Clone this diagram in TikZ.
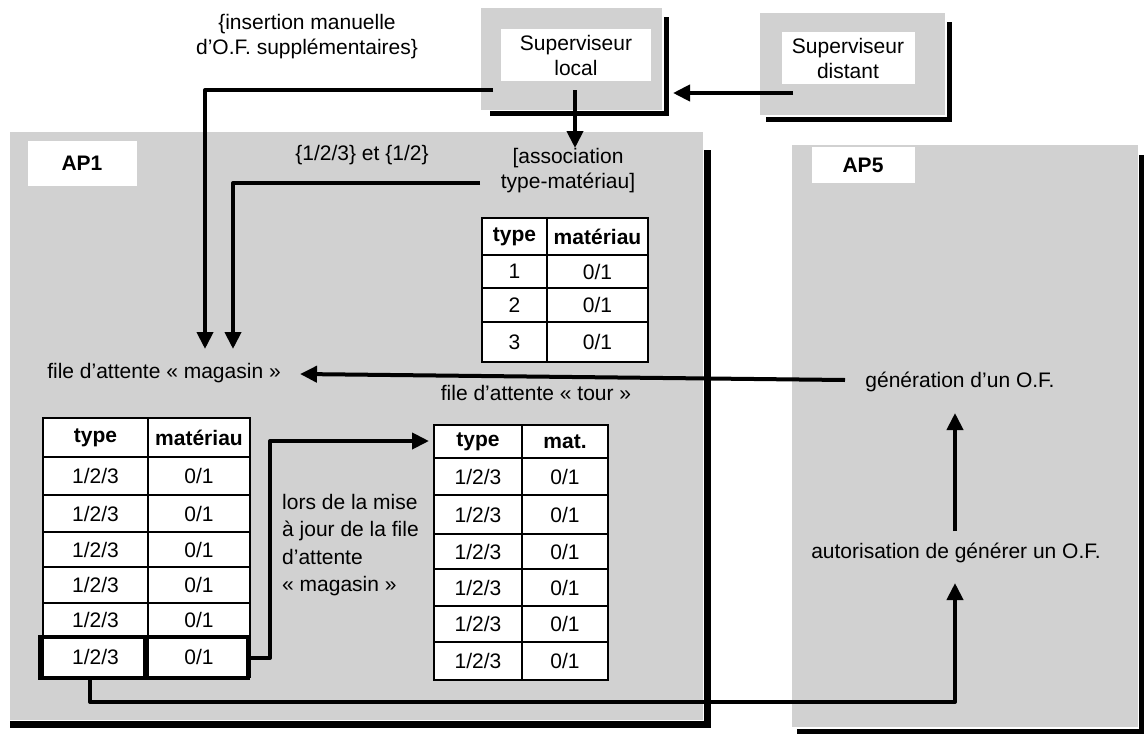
\documentclass[tikz,border=0pt]{standalone}
\usepackage{fontspec}
\setmainfont{Liberation Sans}
\usetikzlibrary{arrows.meta}
\newcommand{\fs}{\fontsize{21}{25}\selectfont}
\begin{document}
\begin{tikzpicture}[x=1pt,y=-1pt,
  bg/.style={fill=black!18},
  shadowline/.style={line width=6pt, line join=miter, line cap=butt},
  whitelabel/.style={fill=white, inner sep=0pt, align=center, font=\fs},
  txt/.style={inner sep=0pt, align=center, font=\fs},
  conn/.style={line width=4pt, line join=round},
  arr/.style={conn, -{Triangle[length=17pt,width=16pt]}},
  tab/.style={fill=white, draw=black, line width=1.4pt},
  tabline/.style={line width=1.4pt},
  hd/.style={inner sep=0pt, font=\fs\bfseries},
  cl/.style={inner sep=0pt, font=\fs},
  thickcell/.style={draw=black, line width=4pt}
]
\useasboundingbox (0,0) rectangle (1144,739);
\fill[white] (0,0) rectangle (1144,739);

% ---------- AP1 ----------
\fill[bg] (10,132) rectangle (703,720);
\draw[shadowline,line width=7pt] (10,724) -- (707,724) -- (707,150);
\node[whitelabel, font=\fs\bfseries, minimum width=109pt, minimum height=45pt] (ap1) at (82,163) {AP1};

% ---------- AP5 ----------
\fill[bg] (792,145) rectangle (1138,727);
\draw[shadowline,line width=5pt] (797,731) -- (1141,731) -- (1141,155);
\node[whitelabel, font=\fs\bfseries, minimum width=103pt, minimum height=36pt] (ap5) at (863,165) {AP5};

% ---------- Superviseur local ----------
\fill[bg] (481,8) rectangle (662,110);
\draw[shadowline,line width=5pt] (490,113) -- (666,113) -- (666,17);
\node[whitelabel, minimum width=150pt, minimum height=52pt] (local) at (576,55) {Superviseur\\local};

% ---------- Superviseur distant ----------
\fill[bg] (760,13) rectangle (945,115);
\draw[shadowline,line width=5pt] (766,119) -- (949,119) -- (949,22);
\node[whitelabel, minimum width=133pt, minimum height=52pt] (distant) at (848,58) {Superviseur\\distant};

% ---------- labels ----------
\node[txt] (ins) at (307,37) {\{insertion manuelle\\d'O.F. supplémentaires\}};
\node[txt] (sets) at (362,155) {\{1/2/3\} et \{1/2\}};
\node[txt] (assoc) at (568,171) {[association\\type-matériau]};
\node[txt] (mag) at (164,373) {file d'attente « magasin »};
\node[txt] (tour) at (536,393) {file d'attente « tour »};
\node[txt, align=left, anchor=north west, font=\fontsize{21}{27.5}\selectfont] (lors) at (282,494) {lors de la mise\\à jour de la file\\d'attente\\« magasin »};
\node[txt] (gen) at (960,382) {génération d'un O.F.};
\node[txt] (aut) at (956,553) {autorisation de générer un O.F.};

% ---------- association table ----------
\filldraw[tab] (482,218) rectangle (648,362);
\draw[tabline] (547,218) -- (547,362);
\foreach \yy in {255,288,322} \draw[tabline] (482,\yy) -- (648,\yy);
\node[hd] (at1) at (514.5,237) {type};
\node[hd] (at2) at (597.5,237) {matériau};
\foreach \v/\yy in {1/271.5,2/305,3/342} {
  \node[cl] at (514.5,\yy) {\v};
  \node[cl] at (597.5,\yy) {0/1};
}

% ---------- magasin table ----------
\filldraw[tab] (43,418) rectangle (250,677);
\draw[tabline] (148,418) -- (148,677);
\foreach \yy in {457,495,532,567,603,637} \draw[tabline] (43,\yy) -- (250,\yy);
\node[hd] at (95.5,438) {type};
\node[hd] at (199,438) {matériau};
\foreach \yy in {476,513.5,549.5,585,620,657} {
  \node[cl] at (95.5,\yy) {1/2/3};
  \node[cl] at (199,\yy) {0/1};
}
\draw[thickcell] (40,637) rectangle (145,678);
\draw[thickcell] (145,637) rectangle (248,678);

% ---------- tour table ----------
\filldraw[tab] (434,425) rectangle (608,680);
\draw[tabline] (522,425) -- (522,680);
\foreach \yy in {458,495,534,569,606,642} \draw[tabline] (434,\yy) -- (608,\yy);
\node[hd] at (478,442) {type};
\node[hd] at (565,442) {mat.};
\foreach \yy in {476.5,514.5,551.5,587.5,624,661} {
  \node[cl] at (478,\yy) {1/2/3};
  \node[cl] at (565,\yy) {0/1};
}

% ---------- connector end points ----------
\coordinate (dtail) at (793,93);
\coordinate (ltip) at (673,93);
\coordinate (ldown) at (575,90);
\coordinate (atip) at (575,148);
\coordinate (insstart) at (493,90);
\coordinate (magin1) at (205,349);
\coordinate (setstart) at (480,183);
\coordinate (magin2) at (233,349);
\coordinate (genW) at (845,380);
\coordinate (magE) at (300,374);
\coordinate (mlastE) at (248,658);
\coordinate (mturn1) at (270,658);
\coordinate (mturn2) at (270,441);
\coordinate (tourW) at (429,441);
\coordinate (mlastS) at (90,678);
\coordinate (lturn) at (955,702);
\coordinate (autB) at (955,583);
\coordinate (autT) at (955,531);
\coordinate (genB) at (955,413);

% ---------- connectors ----------
\draw[arr] (dtail) -- (ltip);
\draw[arr] (ldown) -- (atip);
\draw[arr] (insstart) -| (magin1);
\draw[arr] (setstart) -| (magin2);
\draw[arr] (genW) -- (magE);
\draw[arr] (mlastE) -- (mturn1) -- (mturn2) -- (tourW);
\draw[arr] (mlastS) |- (lturn) -- (autB);
\draw[arr] (autT) -- (genB);
\end{tikzpicture}
\end{document}
